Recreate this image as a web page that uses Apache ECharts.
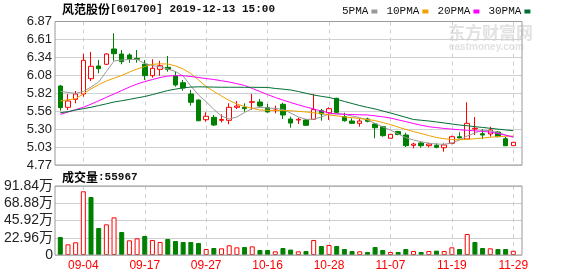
<!DOCTYPE html>
<html><head><meta charset="utf-8">
<script src="https://cdn.jsdelivr.net/npm/echarts@6/dist/echarts.min.js"></script>
<style>html,body{margin:0;padding:0;background:#fff}#c{width:578px;height:276px}</style>
</head><body><div id="c"></div>
<script>
const dates = ['08-30','09-02','09-03','09-04','09-05','09-06','09-09','09-10','09-11','09-12','09-16','09-17','09-18','09-19','09-20','09-23','09-24','09-25','09-26','09-27','09-30','10-08','10-09','10-10','10-11','10-14','10-15','10-16','10-17','10-18','10-21','10-22','10-23','10-24','10-25','10-28','10-29','10-30','10-31','11-01','11-04','11-05','11-06','11-07','11-08','11-11','11-12','11-13','11-14','11-15','11-18','11-19','11-20','11-21','11-22','11-25','11-26','11-27','11-28','11-29'];
const opens  = [5.926,5.614,5.731,5.809,6.033,6.219,6.244,6.468,6.394,6.380,6.330,6.244,6.077,6.170,6.200,6.077,5.974,5.809,5.721,5.433,5.468,5.424,5.424,5.614,5.614,5.688,5.692,5.609,5.565,5.658,5.443,5.428,5.429,5.439,5.565,5.535,5.746,5.477,5.414,5.380,5.443,5.370,5.331,5.161,5.260,5.209,5.058,5.092,5.053,5.058,5.023,5.088,5.184,5.150,5.297,5.228,5.224,5.253,5.155,5.053];
const closes = [5.609,5.707,5.809,6.302,6.214,6.179,6.394,6.399,6.282,6.317,6.318,6.077,6.185,6.223,6.170,5.941,5.897,5.688,5.418,5.483,5.355,5.436,5.614,5.633,5.594,5.696,5.633,5.546,5.575,5.502,5.384,5.438,5.351,5.580,5.516,5.594,5.541,5.418,5.380,5.414,5.410,5.316,5.199,5.219,5.216,5.053,5.077,5.053,5.077,5.029,5.063,5.184,5.165,5.380,5.307,5.209,5.282,5.184,5.052,5.102];
const lows   = [5.565,5.575,5.673,5.770,5.999,6.112,6.233,6.296,6.244,6.267,6.267,6.014,6.048,6.077,6.135,5.916,5.857,5.638,5.410,5.404,5.341,5.394,5.366,5.590,5.550,5.575,5.614,5.536,5.527,5.443,5.316,5.370,5.345,5.429,5.418,5.429,5.527,5.404,5.374,5.331,5.394,5.161,5.184,5.158,5.205,5.034,5.014,5.023,5.029,5.014,4.965,5.073,5.163,5.150,5.209,5.150,5.184,5.175,5.050,5.050];
const highs  = [5.941,5.809,5.853,6.399,6.424,6.307,6.405,6.697,6.453,6.405,6.453,6.307,6.317,6.296,6.365,6.135,6.014,5.868,5.730,5.541,5.502,5.512,5.673,5.707,5.673,5.809,5.736,5.663,5.638,5.682,5.477,5.462,5.443,5.809,5.590,5.614,5.755,5.535,5.453,5.443,5.462,5.380,5.341,5.222,5.270,5.243,5.096,5.106,5.097,5.087,5.087,5.199,5.248,5.688,5.472,5.297,5.330,5.265,5.184,5.105];
const volumes = [239600,142000,169000,848000,772000,359000,408000,501000,306000,195000,222000,253000,200000,173000,213000,186000,173000,173000,160000,80000,93000,89000,129000,102000,106000,115000,67000,67000,49000,93000,72000,49000,53000,200000,120000,133000,120000,80000,53000,49000,40000,106000,67000,40000,40000,80000,53000,40000,53000,58000,53000,102000,80000,280000,173000,93000,89000,80000,80000,55967];
const ma5  = [5.849,5.831,5.819,5.846,5.911,5.985,6.138,6.292,6.307,6.314,6.314,6.255,6.226,6.207,6.175,6.138,6.072,5.926,5.794,5.696,5.582,5.487,5.443,5.473,5.538,5.597,5.614,5.604,5.597,5.582,5.531,5.473,5.439,5.439,5.473,5.516,5.524,5.512,5.487,5.462,5.429,5.380,5.326,5.282,5.224,5.170,5.136,5.111,5.088,5.077,5.073,5.092,5.136,5.194,5.238,5.282,5.268,5.246,5.209,5.175];
const ma10 = [5.707,5.725,5.740,5.810,5.885,5.945,5.999,6.040,6.080,6.130,6.175,6.210,6.244,6.250,6.248,6.220,6.175,6.109,6.014,5.919,5.846,5.780,5.714,5.663,5.626,5.600,5.575,5.570,5.568,5.566,5.565,5.555,5.546,5.535,5.524,5.502,5.490,5.473,5.462,5.451,5.436,5.421,5.390,5.363,5.325,5.290,5.260,5.231,5.200,5.172,5.155,5.143,5.140,5.143,5.155,5.165,5.176,5.187,5.190,5.194];
const ma20 = [5.512,5.545,5.580,5.614,5.660,5.710,5.760,5.809,5.860,5.910,5.955,5.990,6.021,6.050,6.072,6.077,6.077,6.065,6.050,6.035,6.021,6.003,5.985,5.960,5.934,5.890,5.846,5.800,5.758,5.720,5.685,5.650,5.619,5.590,5.560,5.531,5.516,5.512,5.508,5.505,5.502,5.490,5.475,5.458,5.430,5.405,5.377,5.352,5.330,5.318,5.305,5.295,5.285,5.278,5.270,5.263,5.250,5.231,5.205,5.180];
const ma30 = [5.535,5.550,5.575,5.594,5.615,5.640,5.665,5.692,5.710,5.730,5.752,5.772,5.800,5.830,5.860,5.880,5.900,5.910,5.914,5.912,5.910,5.908,5.908,5.908,5.907,5.907,5.906,5.905,5.890,5.880,5.868,5.845,5.820,5.794,5.775,5.758,5.731,5.700,5.670,5.640,5.614,5.590,5.560,5.531,5.500,5.468,5.436,5.425,5.414,5.400,5.385,5.370,5.355,5.345,5.330,5.320,5.307,5.295,5.283,5.272];
const priceTicks = ['4.77','5.03','5.30','5.56','5.82','6.08','6.34','6.61','6.87'];
const priceMin = 4.77, priceMax = 6.87;
const volMax = 918400, volStep = 229600;

const RED = '#ff0000', GREEN = '#008000';
const candleData = dates.map((d, i) => [opens[i], closes[i], lows[i], highs[i]]);
const volData = volumes.map((v, i) => {
  const up = i === 0 ? closes[i] >= opens[i] : closes[i] >= closes[i - 1];
  return { value: v, itemStyle: { color: up ? '#fff' : GREEN, borderColor: up ? RED : GREEN, borderWidth: 1 } };
});
const labelIdx = (i) => i % 8 === 3;
const dash = { show: true, interval: labelIdx, lineStyle: { color: '#cfcfcf', type: [4, 4], width: 1 } };
const mono = 'Liberation Mono';
const cjk = 'Noto Sans CJK SC';

const chart = echarts.init(document.getElementById('c'), null, { renderer: 'canvas' });
chart.setOption({
  animation: false,
  backgroundColor: '#fff',
  title: [
    { left: 57, top: -2, text: '{a|风范股份}{b|[601700] 2019-12-13 15:00}',
      textStyle: { rich: { a: { fontFamily: cjk, fontSize: 12, color: '#000' }, b: { fontFamily: mono, fontSize: 11, color: '#111' } } } },
    { left: 57, top: 166, text: '{a|成交量}{b|:' + volumes[volumes.length - 1] + '}',
      textStyle: { rich: { a: { fontFamily: cjk, fontSize: 12, color: '#000' }, b: { fontFamily: mono, fontSize: 11, color: '#111' } } } }
  ],
  legend: {
    left: 337, top: 1, icon: 'rect', itemWidth: 6, itemHeight: 4, align: 'right', itemGap: 9,
    textStyle: { fontFamily: mono, fontSize: 11, color: '#111', padding: [0, -2, 0, 0] },
    data: ['5PMA', '10PMA', '20PMA', '30PMA']
  },
  graphic: [
    { type: 'text', left: 448, top: 24, z: 0, style: { text: '东方财富网', fontFamily: cjk, fontWeight: 'bold', fontSize: 17, fill: '#e2e2e2' } },
    { type: 'text', left: 449, top: 42, z: 0, style: { text: 'eastmoney.com', fontFamily: 'Liberation Sans', fontWeight: 'bold', fontSize: 10, fill: '#e2e2e2' } }
  ],
  grid: [
    { left: 60.3, top: 21.5, width: 453, height: 143.5 },
    { left: 55, top: 21.5, width: 467, height: 143.5, show: true, borderColor: '#999', borderWidth: 1, backgroundColor: 'transparent', z: 3 },
    { left: 60.3, top: 186, width: 453, height: 69 },
    { left: 55, top: 186, width: 467, height: 69, show: true, borderColor: '#999', borderWidth: 1, backgroundColor: 'transparent', z: 3 }
  ],
  xAxis: [
    { gridIndex: 0, type: 'category', data: dates, boundaryGap: false, axisLine: { show: false }, axisTick: { show: false }, axisLabel: { show: false }, splitLine: dash },
    { gridIndex: 1, type: 'value', min: 0, max: 1, show: false },
    { gridIndex: 2, type: 'category', data: dates, boundaryGap: false, axisLine: { show: false }, axisTick: { show: false },
      axisLabel: { show: true, interval: labelIdx, color: RED, fontFamily: 'Liberation Sans', fontSize: 12, margin: 5 }, splitLine: dash },
    { gridIndex: 3, type: 'value', min: 0, max: 1, show: false }
  ],
  yAxis: [
    { gridIndex: 0, type: 'value', min: priceMin, max: priceMax, show: false },
    { gridIndex: 1, type: 'value', min: 0, max: priceTicks.length - 1, interval: 1,
      axisLine: { show: false }, axisTick: { show: false },
      axisLabel: { formatter: (v) => priceTicks[Math.round(v)], fontFamily: 'Liberation Sans', fontSize: 13, color: '#222', margin: 3 },
      splitLine: { show: true, lineStyle: { color: '#d0d0d0', width: 1 } } },
    { gridIndex: 2, type: 'value', min: 0, max: volMax, show: false },
    { gridIndex: 3, type: 'value', min: 0, max: volMax, interval: volStep,
      axisLine: { show: false }, axisTick: { show: false },
      axisLabel: { formatter: (v) => v === 0 ? '0' : (v / 10000).toFixed(2) + '万', fontFamily: 'Liberation Sans, ' + cjk, fontSize: 14, color: '#222', margin: 2 },
      splitLine: { show: true, lineStyle: { color: '#d0d0d0', width: 1 } } }
  ],
  series: [
    { name: 'K', type: 'candlestick', xAxisIndex: 0, yAxisIndex: 0, data: candleData, barWidth: 5, clip: false,
      itemStyle: { color: '#fff', color0: GREEN, borderColor: RED, borderColor0: GREEN, borderWidth: 1 } },
    { name: '5PMA', type: 'line', xAxisIndex: 0, yAxisIndex: 0, data: ma5, showSymbol: false, color: '#999999', lineStyle: { width: 1, color: '#999999' } },
    { name: '10PMA', type: 'line', xAxisIndex: 0, yAxisIndex: 0, data: ma10, showSymbol: false, color: '#f0a000', lineStyle: { width: 1, color: '#f0a000' } },
    { name: '20PMA', type: 'line', xAxisIndex: 0, yAxisIndex: 0, data: ma20, showSymbol: false, color: '#ff00ff', lineStyle: { width: 1, color: '#ff00ff' } },
    { name: '30PMA', type: 'line', xAxisIndex: 0, yAxisIndex: 0, data: ma30, showSymbol: false, color: '#006e32', lineStyle: { width: 1, color: '#006e32' } },
    { name: 'VOL', type: 'bar', xAxisIndex: 2, yAxisIndex: 2, data: volData, barWidth: 5 }
  ]
});
</script></body></html>
